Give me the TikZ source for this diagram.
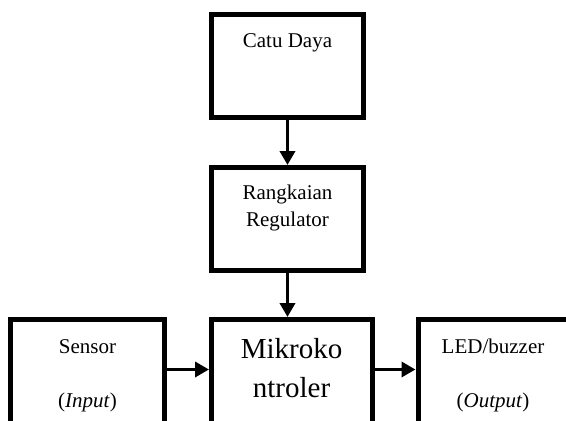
\documentclass[tikz,border=0pt]{standalone}
\usepackage{fontspec}
\setmainfont{Liberation Serif}
\usetikzlibrary{arrows.meta}
\begin{document}
\begin{tikzpicture}[x=1pt,y=-1pt,
  blk/.style={draw=black,line width=5pt,fill=white,rectangle,inner sep=0pt},
  lbl/.style={anchor=base,inner sep=0pt,font=\fontsize{21}{27}\selectfont},
  big/.style={anchor=base,inner sep=0pt,font=\fontsize{29}{39}\selectfont},
  conn/.style={line width=3.5pt,-{Triangle[length=14pt,width=15pt]}}]
\useasboundingbox (0,0) rectangle (566,421);
\clip (0,0) rectangle (566,421);
% boxes
\node[blk,minimum width=152pt,minimum height=103pt] (catu) at (287.5,66) {};
\node[blk,minimum width=152pt,minimum height=103pt] (reg) at (287.5,219) {};
\node[blk,minimum width=161pt,minimum height=140pt] (mik) at (292,389.5) {};
\node[blk,minimum width=154pt,minimum height=140pt] (sen) at (87.5,389.5) {};
\node[blk,minimum width=160pt,minimum height=140pt] (led) at (498,389.5) {};
% texts
\node[lbl] (t1) at (287.5,47) {Catu Daya};
\node[lbl] (t2) at (287.5,199) {Rangkaian};
\node[lbl] (t3) at (287.5,226) {Regulator};
\node[big] (t4) at (291.5,358) {Mikroko};
\node[big] (t5) at (291.5,397) {ntroler};
\node[lbl] (t6) at (87.5,353) {Sensor};
\node[lbl] (t7) at (87.5,407) {(\textit{Input})};
\node[lbl] (t8) at (493,353) {LED/buzzer};
\node[lbl] (t9) at (493,407) {(\textit{Output})};
% connectors
\coordinate (h) at (0,369.5);
\draw[conn] (catu.south) -- (reg.north);
\draw[conn] (reg.south) -- (reg.south |- mik.north);
\draw[conn] (sen.east |- h) -- (mik.west |- h);
\draw[conn] (mik.east |- h) -- (led.west |- h);
\end{tikzpicture}
\end{document}
